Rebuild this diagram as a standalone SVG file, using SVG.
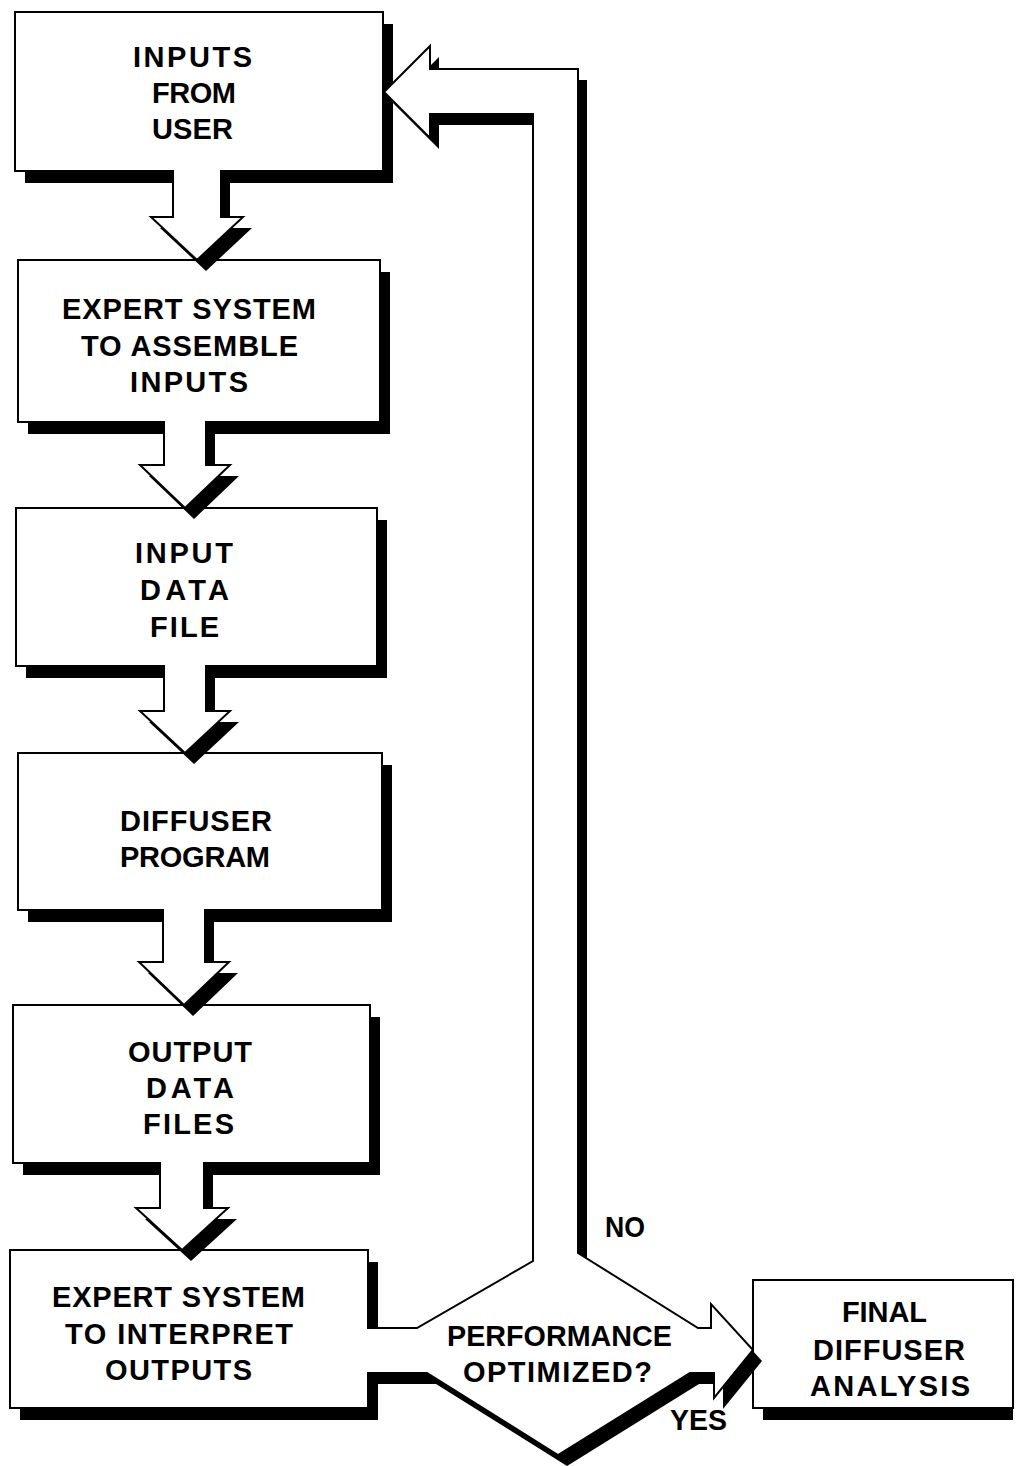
<svg xmlns="http://www.w3.org/2000/svg" width="1016" height="1466" viewBox="0 0 1016 1466">
<style>
.bg{fill:#fff}
.sh{fill:#000}
.box{fill:#fff;stroke:#000;stroke-width:2}
.arr{fill:#fff;stroke:#000;stroke-width:2;stroke-linejoin:miter}
.t{font-family:"Liberation Sans",Arial,Helvetica,sans-serif;font-weight:bold;font-size:29px;fill:#000}
.c{font-family:"Liberation Sans",Arial,Helvetica,sans-serif;font-weight:bold;font-size:30px;fill:#000}
</style>
<defs>
<clipPath id="k1" clipPathUnits="userSpaceOnUse"><rect x="0" y="171" width="500" height="89"/></clipPath>
<clipPath id="k2" clipPathUnits="userSpaceOnUse"><rect x="0" y="422" width="500" height="86"/></clipPath>
<clipPath id="k3" clipPathUnits="userSpaceOnUse"><rect x="0" y="666" width="500" height="87"/></clipPath>
<clipPath id="k4" clipPathUnits="userSpaceOnUse"><rect x="0" y="910" width="500" height="95"/></clipPath>
<clipPath id="k5" clipPathUnits="userSpaceOnUse"><rect x="0" y="1163" width="500" height="87"/></clipPath>
<clipPath id="k6" clipPathUnits="userSpaceOnUse"><rect x="0" y="0" width="753" height="1466"/></clipPath>
</defs>
<rect class="bg" x="0" y="0" width="1016" height="1466"/>

<g id="nodes">
<g id="n1">
<rect class="sh" x="25" y="24" width="368" height="159"/>
<rect class="box" x="15" y="12" width="368" height="159"/>
<text class="t" x="133" y="67" textLength="119" lengthAdjust="spacing">INPUTS</text>
<text class="t" x="152" y="103" textLength="84" lengthAdjust="spacing">FROM</text>
<text class="t" x="152" y="139" textLength="81" lengthAdjust="spacing">USER</text>
</g>
<g id="n2">
<rect class="sh" x="28" y="272" width="362" height="162"/>
<rect class="box" x="18" y="260" width="362" height="162"/>
<text class="t" x="62" y="319" textLength="254" lengthAdjust="spacing">EXPERT SYSTEM</text>
<text class="t" x="81" y="356" textLength="217" lengthAdjust="spacing">TO ASSEMBLE</text>
<text class="t" x="130" y="392" textLength="118" lengthAdjust="spacing">INPUTS</text>
</g>
<g id="n3">
<rect class="sh" x="26" y="520" width="361" height="158"/>
<rect class="box" x="16" y="508" width="361" height="158"/>
<text class="t" x="135" y="563" textLength="98" lengthAdjust="spacing">INPUT</text>
<text class="t" x="140" y="600" textLength="89" lengthAdjust="spacing">DATA</text>
<text class="t" x="150" y="637" textLength="69" lengthAdjust="spacing">FILE</text>
</g>
<g id="n4">
<rect class="sh" x="28" y="765" width="364" height="157"/>
<rect class="box" x="18" y="753" width="364" height="157"/>
<text class="t" x="120" y="831" textLength="152" lengthAdjust="spacing">DIFFUSER</text>
<text class="t" x="120" y="867" textLength="150" lengthAdjust="spacing">PROGRAM</text>
</g>
<g id="n5">
<rect class="sh" x="23" y="1017" width="357" height="158"/>
<rect class="box" x="13" y="1005" width="357" height="158"/>
<text class="t" x="128" y="1062" textLength="124" lengthAdjust="spacing">OUTPUT</text>
<text class="t" x="146" y="1098" textLength="88" lengthAdjust="spacing">DATA</text>
<text class="t" x="143" y="1134" textLength="91" lengthAdjust="spacing">FILES</text>
</g>
<g id="n6">
<rect class="sh" x="20" y="1262" width="358" height="158"/>
<rect class="box" x="10" y="1250" width="358" height="158"/>
<text class="t" x="52" y="1307" textLength="253" lengthAdjust="spacing">EXPERT SYSTEM</text>
<text class="t" x="65" y="1344" textLength="228" lengthAdjust="spacing">TO  INTERPRET</text>
<text class="t" x="105" y="1380" textLength="147" lengthAdjust="spacing">OUTPUTS</text>
</g>
<g id="n7">
<rect class="sh" x="763" y="1292" width="250" height="128"/>
<rect class="box" x="753" y="1280" width="260" height="128"/>
<text class="t" x="842" y="1322" textLength="85" lengthAdjust="spacing">FINAL</text>
<text class="t" x="813" y="1360" textLength="152" lengthAdjust="spacing">DIFFUSER</text>
<text class="t" x="810" y="1396" textLength="160" lengthAdjust="spacing">ANALYSIS</text>
</g>
</g>

<g id="connectors">
<g id="e1">
<path class="sh" clip-path="url(#k1)" transform="translate(9,11)" d="M173,170 L173,217 L151,217 L197,260 L243,217 L221,217 L221,170 Z"/>
<path class="arr" d="M173,170 L173,217 L151,217 L197,260 L243,217 L221,217 L221,170"/>
</g>
<g id="e2">
<path class="sh" clip-path="url(#k2)" transform="translate(9,11)" d="M164,421 L164,465 L140,465 L185,508 L230,465 L206,465 L206,421 Z"/>
<path class="arr" d="M164,421 L164,465 L140,465 L185,508 L230,465 L206,465 L206,421"/>
</g>
<g id="e3">
<path class="sh" clip-path="url(#k3)" transform="translate(9,11)" d="M164,665 L164,711 L140,711 L185,753 L230,711 L206,711 L206,665 Z"/>
<path class="arr" d="M164,665 L164,711 L140,711 L185,753 L230,711 L206,711 L206,665"/>
</g>
<g id="e4">
<path class="sh" clip-path="url(#k4)" transform="translate(9,11)" d="M163,909 L163,962 L139,962 L184,1005 L229,962 L205,962 L205,909 Z"/>
<path class="arr" d="M163,909 L163,962 L139,962 L184,1005 L229,962 L205,962 L205,909"/>
</g>
<g id="e5">
<path class="sh" clip-path="url(#k5)" transform="translate(9,11)" d="M160,1162 L160,1208 L136,1208 L182,1250 L228,1208 L204,1208 L204,1162 Z"/>
<path class="arr" d="M160,1162 L160,1208 L136,1208 L182,1250 L228,1208 L204,1208 L204,1162"/>
</g>
<g id="e6">
<path class="sh" clip-path="url(#k6)" transform="translate(9,11)" d="M367,1328 L417,1328 L533,1261 L533,114 L430,114 L430,138 L384,92 L430,46 L430,69 L578,69 L578,1253 L698,1328 L711,1328 L711,1304 L753,1350 L714,1398 L714,1373 L690,1373 L558,1455 L427,1373 L367,1373 Z"/>
<path class="arr" d="M367,1328 L417,1328 L533,1261 L533,114 L430,114 L430,138 L384,92 L430,46 L430,69 L578,69 L578,1253 L698,1328 L711,1328 L711,1304 L753,1350 L714,1398 L714,1373 L690,1373 L558,1455 L427,1373 L367,1373"/>
</g>
<text class="c" x="605" y="1237" textLength="40" lengthAdjust="spacingAndGlyphs">NO</text>
<text class="t" x="447" y="1346" textLength="225" lengthAdjust="spacingAndGlyphs">PERFORMANCE</text>
<text class="t" x="463" y="1382" textLength="189" lengthAdjust="spacing">OPTIMIZED?</text>
<text class="c" x="670" y="1430" textLength="57" lengthAdjust="spacingAndGlyphs">YES</text>
</g>
</svg>
